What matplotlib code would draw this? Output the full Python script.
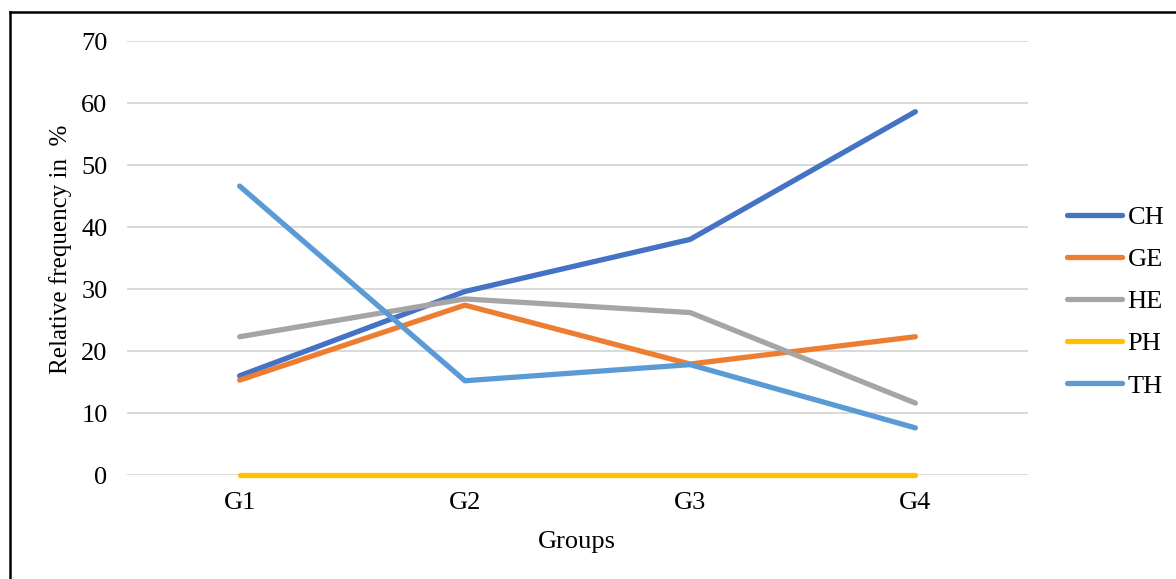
import matplotlib
matplotlib.use("Agg")
import matplotlib.pyplot as plt
from matplotlib.lines import Line2D

groups = ["G1", "G2", "G3", "G4"]
ch = [16.0, 29.6, 38.0, 58.6]
ge = [15.3, 27.4, 17.9, 22.3]
he = [22.3, 28.4, 26.2, 11.6]
ph = [0.0, 0.0, 0.0, 0.0]
th = [46.6, 15.2, 17.8, 7.6]

series = [
    ("CH", ch, "#4472C4"),
    ("GE", ge, "#ED7D31"),
    ("HE", he, "#A5A5A5"),
    ("PH", ph, "#FFC000"),
    ("TH", th, "#5B9BD5"),
]
y_ticks = [0, 10, 20, 30, 40, 50, 60, 70]

plt.rcParams["font.family"] = ["Liberation Serif", "DejaVu Serif"]
FS = 19

W, H = 1176, 579
fig = plt.figure(figsize=(W / 100, H / 100), dpi=100)
ax = fig.add_axes([127 / W, 1 - 475 / H, (1028 - 127) / W, (475 - 41) / H])

x = list(range(len(groups)))
for name, vals, color in series:
    ax.plot(x, vals, color=color, lw=3.8, solid_capstyle="round",
            solid_joinstyle="round", label=name, zorder=3, clip_on=False)

ax.set_xlim(-0.5, len(groups) - 0.5)
ax.set_ylim(0, 70)
ax.set_yticks(y_ticks)
ax.set_xticks(x)
ax.set_xticklabels(groups)
ax.grid(axis="y", color="#D9D9D9", lw=1.4, zorder=0)
ax.set_axisbelow(True)
for s in ax.spines.values():
    s.set_visible(False)
ax.tick_params(axis="both", length=0, labelsize=FS, colors="black")
ax.tick_params(axis="y", pad=14)
ax.tick_params(axis="x", pad=12)

fig.text(577 / W, 1 - 542 / H, "Groups", ha="center", va="center", fontsize=FS)
fig.text(61 / W, 1 - 249 / H, "Relative frequency in  %", ha="center",
         va="center", rotation=90, fontsize=18)

fig.legend(loc="center left", bbox_to_anchor=(1067 / W, 1 - 301.5 / H),
           frameon=False, fontsize=FS, handlelength=2.1, handletextpad=0.2,
           labelspacing=0.71, borderpad=0, borderaxespad=0)

# outer frame: left and top edges
fig.add_artist(Line2D([10 / W, 10 / W], [0, 1 - 12 / H], color="black",
                      lw=1.8, transform=fig.transFigure))
fig.add_artist(Line2D([10 / W, 1], [1 - 12 / H, 1 - 12 / H], color="black",
                      lw=1.8, transform=fig.transFigure))

fig.savefig("out.png", dpi=100, facecolor="white")
